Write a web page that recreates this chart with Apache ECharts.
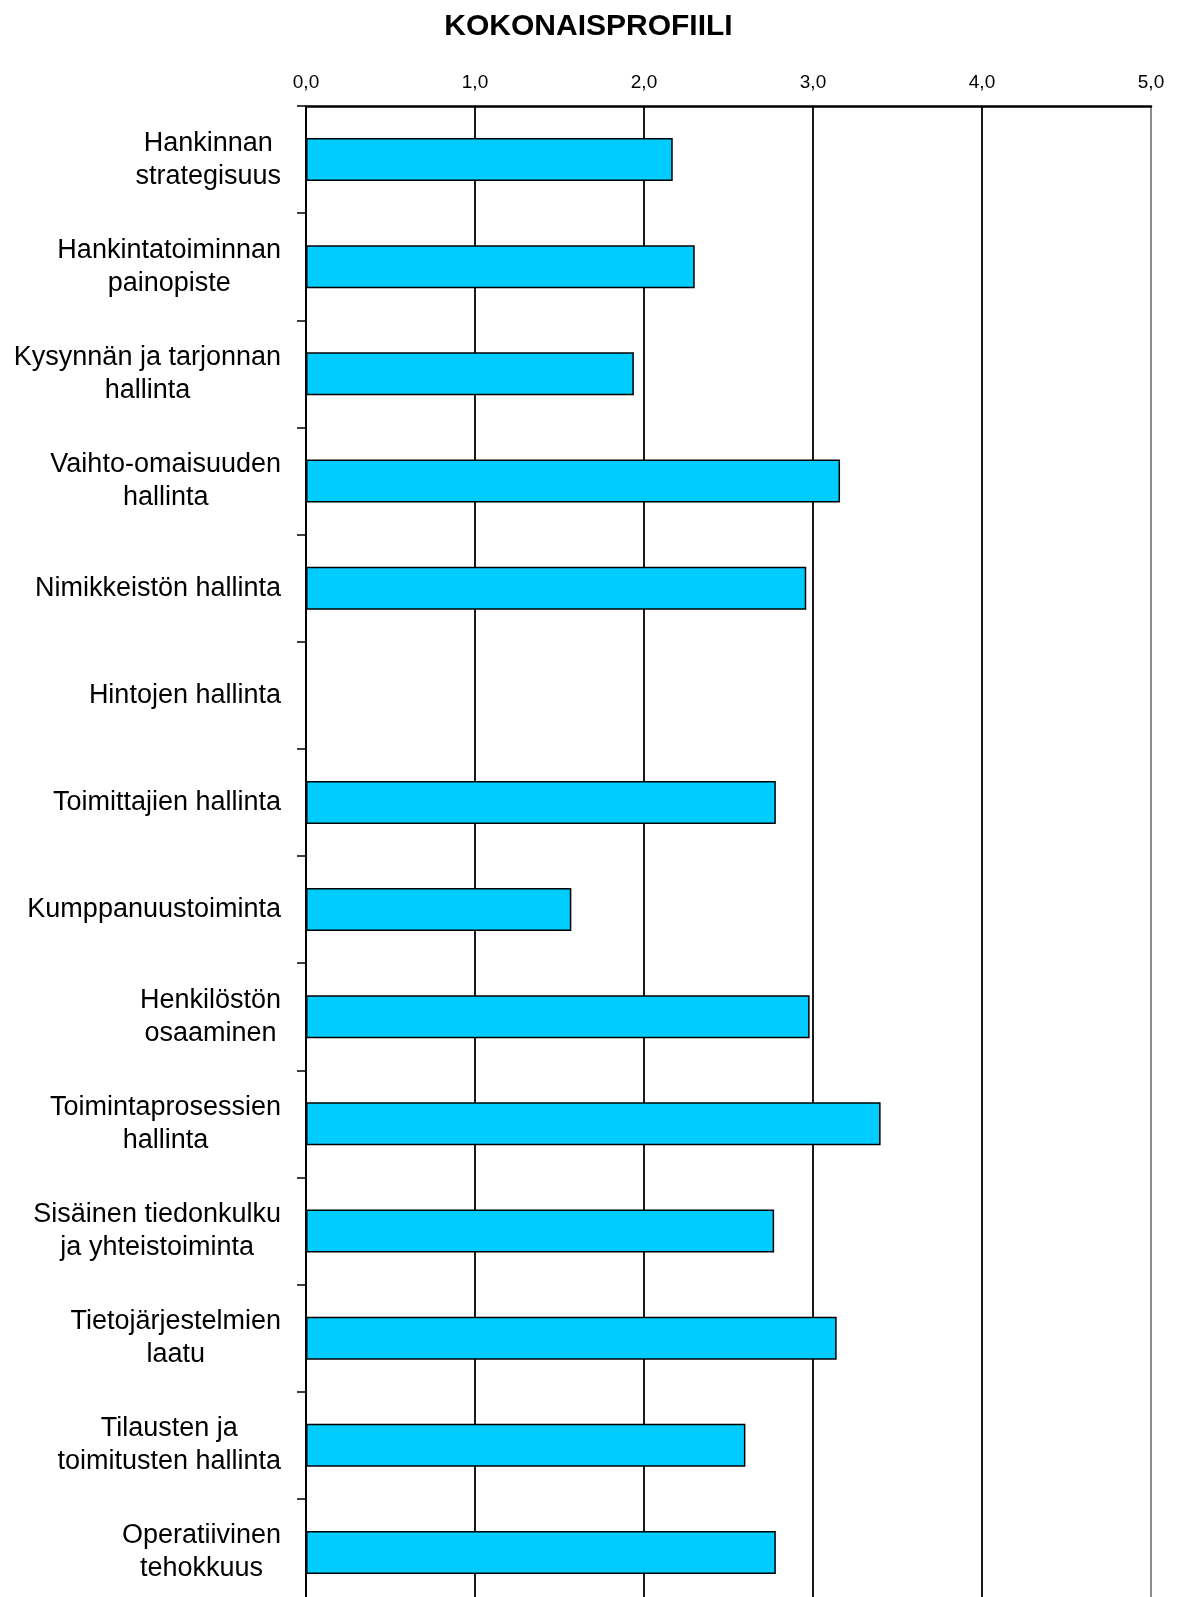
<!DOCTYPE html>
<html>
<head>
<meta charset="utf-8">
<script src="https://cdn.jsdelivr.net/npm/echarts@6/dist/echarts.min.js"></script>
<style>
html, body { margin: 0; padding: 0; background: #fff; }
#chart { width: 1177px; height: 1597px; }
</style>
</head>
<body>
<div id="chart"></div>
<script>
// otsikko ja data
var chartTitle = 'KOKONAISPROFIILI';
var categories = [
    'Hankinnan\nstrategisuus',
    'Hankintatoiminnan\npainopiste',
    'Kysynnän ja tarjonnan\nhallinta',
    'Vaihto-omaisuuden\nhallinta',
    'Nimikkeistön hallinta',
    'Hintojen hallinta',
    'Toimittajien hallinta',
    'Kumppanuustoiminta',
    'Henkilöstön\nosaaminen',
    'Toimintaprosessien\nhallinta',
    'Sisäinen tiedonkulku\nja yhteistoiminta',
    'Tietojärjestelmien\nlaatu',
    'Tilausten ja\ntoimitusten hallinta',
    'Operatiivinen\ntehokkuus'
];
var scores = [2.17, 2.30, 1.94, 3.16, 2.96, null, 2.78, 1.57, 2.98, 3.40, 2.77, 3.14, 2.60, 2.78];
var axisMin = 0;
var axisMax = 5;
var axisStep = 1;

var fontName = '"Liberation Sans", Arial, sans-serif';
var barColor = '#00ccff';

var myChart = echarts.init(document.getElementById('chart'));
var option = {
    animation: false,
    title: {
        text: chartTitle,
        left: 'center',
        top: 7,
        textStyle: {
            color: '#000',
            fontSize: 30,
            fontWeight: 'bold',
            fontFamily: fontName
        }
    },
    grid: {
        left: 306,
        right: 26,
        top: 106,
        height: 1500,   // alareuna jatkuu kuvan ulkopuolelle
        outerBoundsMode: 'none'
    },
    xAxis: {
        type: 'value',
        position: 'top',
        min: axisMin,
        max: axisMax,
        interval: axisStep,
        axisLine: { show: true, lineStyle: { color: '#000', width: 2.5 } },
        axisTick: { show: false },
        axisLabel: {
            color: '#000',
            fontSize: 19,
            fontFamily: fontName,
            margin: 14,
            formatter: function (v) { return v.toFixed(1).replace('.', ','); }
        },
        splitLine: {
            show: true,
            lineStyle: { color: ['#000', '#000', '#000', '#000', '#000', '#808080'], width: 1.8 }
        }
    },
    yAxis: {
        type: 'category',
        inverse: true,
        data: categories,
        axisLine: { show: true, lineStyle: { color: '#000', width: 1.8 } },
        axisTick: { show: true, length: 9, lineStyle: { color: '#000', width: 1.5 } },
        axisLabel: {
            color: '#000',
            fontSize: 27,
            lineHeight: 33,
            fontFamily: fontName,
            margin: 25,
            align: 'right',
            // rivit keskitetään tekstilohkon sisällä
            formatter: function (v) {
                return v.split('\n').map(function (s) { return '{c|' + s + '}'; }).join('\n');
            },
            rich: {
                c: {
                    align: 'center',
                    color: '#000',
                    fontSize: 27,
                    lineHeight: 33,
                    fontFamily: fontName
                }
            }
        }
    },
    series: [
        {
            type: 'bar',
            data: scores,
            barWidth: 43,
            itemStyle: {
                color: barColor,
                borderColor: '#000',
                borderWidth: 1.5
            }
        }
    ]
};
myChart.setOption(option);
</script>
</body>
</html>
